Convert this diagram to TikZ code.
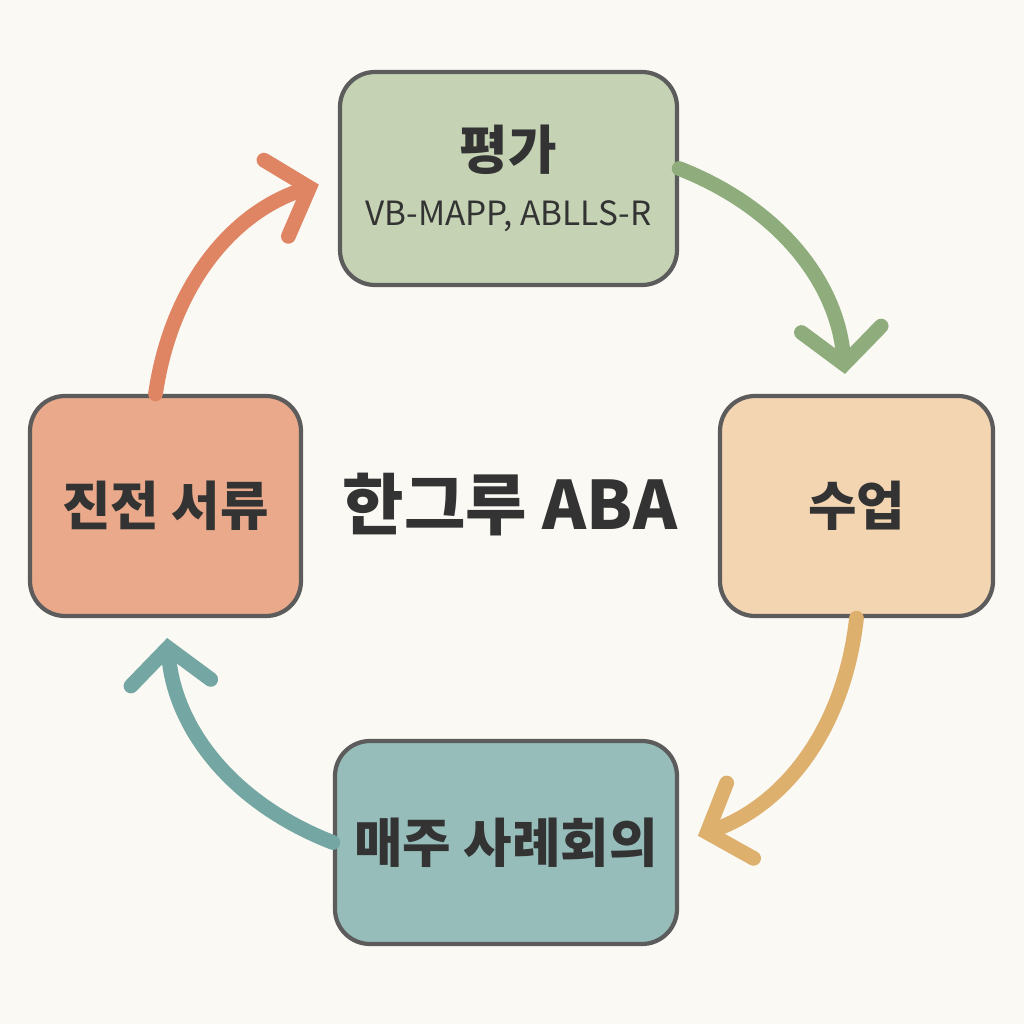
\documentclass[tikz,border=0pt]{standalone}
\usepackage{fontspec}
\setmainfont{Noto Sans CJK KR}
\usetikzlibrary{arrows.meta, positioning}
\definecolor{bg}{HTML}{FBF9F4}
\definecolor{ink}{HTML}{333333}
\definecolor{evalfill}{HTML}{C5D3B4}
\definecolor{evalarr}{HTML}{8FAD7C}
\definecolor{classfill}{HTML}{F3D6B1}
\definecolor{classarr}{HTML}{DDB06E}
\definecolor{meetfill}{HTML}{96BDBA}
\definecolor{meetarr}{HTML}{74A7A4}
\definecolor{repfill}{HTML}{E9A98A}
\definecolor{reparr}{HTML}{DF8564}

\begin{document}
\begin{tikzpicture}[
    stepbox/.style={rectangle, draw=ink!80, line width=1.2pt, rounded corners=0.35cm, align=center, text=ink, font=\bfseries\fontsize{15}{18}\selectfont},
    cyclearrow/.style={line width=4.2pt, line cap=round, -{Straight Barb[length=3.5mm, width=8mm, line cap=round]}, shorten >=2mm, bend left=32}
]
    \fill[bg] (0,0) rectangle (10.24,10.24);
    \useasboundingbox (0,0) rectangle (10.24,10.24);

    % Boxes
    \node[stepbox, fill=evalfill, minimum width=3.37cm, minimum height=2.13cm] (eval) at (5.085, 8.455) {평가\\[-2pt]{\mdseries\fontsize{9.5}{11}\selectfont VB-MAPP, ABLLS-R}};
    \node[stepbox, fill=classfill, minimum width=2.73cm, minimum height=2.2cm] (class) at (8.565, 5.18) {수업};
    \node[stepbox, fill=meetfill, minimum width=3.42cm, minimum height=2.03cm] (meet) at (5.06, 1.815) {매주 사례회의};
    \node[stepbox, fill=repfill, minimum width=2.71cm, minimum height=2.2cm] (report) at (1.655, 5.18) {진전 서류};

    % Center title
    \node[text=ink, font=\bfseries\fontsize{19}{22}\selectfont] (title) at (5.10, 5.19) {한그루 ABA};

    % Cycle
    \draw[cyclearrow, evalarr] ([yshift=1mm]eval.east) to ([xshift=-1mm]class.north);
    \draw[cyclearrow, classarr] (class.south) to (meet.east);
    \draw[cyclearrow, meetarr] (meet.west) to (report.south);
    \draw[cyclearrow, reparr] ([xshift=-1mm]report.north) to (eval.west);
\end{tikzpicture}
\end{document}
